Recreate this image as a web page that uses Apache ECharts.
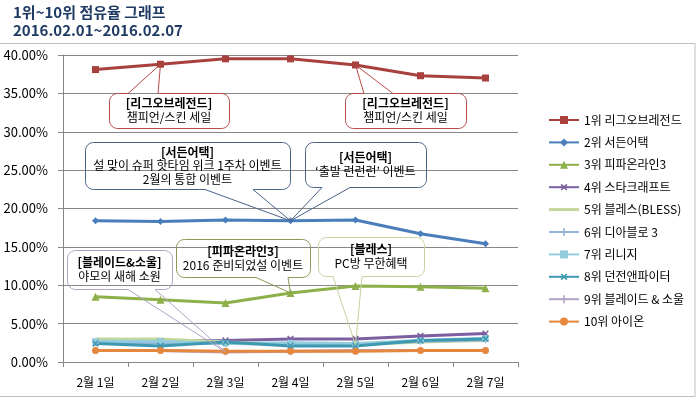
<!DOCTYPE html>
<html>
<head>
<meta charset="utf-8">
<script src="https://cdn.jsdelivr.net/npm/echarts@6/dist/echarts.min.js"></script>
<style>
  html, body { margin: 0; padding: 0; background: #fff; }
  #main { width: 696px; height: 399px; }
</style>
</head>
<body>
<div id="main"></div>
<script>
var FONT = '"Noto Sans CJK KR", "Noto Sans", sans-serif';

// data (% share)
var days = ['2월 1일', '2월 2일', '2월 3일', '2월 4일', '2월 5일', '2월 6일', '2월 7일'];
var names = ['1위 리그오브레전드', '2위 서든어택', '3위 피파온라인3', '4위 스타크래프트', '5위 블레스(BLESS)',
  '6위 디아블로 3', '7위 리니지', '8위 던전앤파이터', '9위 블레이드 & 소울', '10위 아이온'];
var lol = [38.1, 38.8, 39.5, 39.5, 38.7, 37.3, 37.0];
var sudden = [18.4, 18.3, 18.5, 18.4, 18.5, 16.7, 15.4];
var fifa = [8.5, 8.1, 7.7, 9.0, 9.9, 9.8, 9.6];
var starcraft = [2.7, 2.7, 2.8, 3.0, 3.0, 3.4, 3.7];
var bless = [3.0, 3.0, 2.6, 2.3, 2.2, 2.6, 2.8];
var diablo = [2.5, 2.5, 2.4, 2.3, 2.3, 2.7, 2.9];
var lineage = [2.7, 2.7, 2.4, 2.5, 2.4, 2.8, 3.1];
var dnf = [2.4, 2.1, 2.6, 2.1, 2.1, 2.8, 3.0];
var bns = [1.5, 1.5, 1.3, 1.4, 1.5, 1.5, 1.5];
var aion = [1.5, 1.5, 1.4, 1.4, 1.4, 1.5, 1.5];
var yMax = 40, yStep = 5;

var allData = [lol, sudden, fifa, starcraft, bless, diablo, lineage, dnf, bns, aion];

// styles
var colors = ['#A8413E', '#4A7EBB', '#8DB04A', '#7B5FA0', '#C4D79B', '#95B3D7', '#93CDDD', '#3E98B0', '#B3A2C7', '#E5873D'];
var plus = 'path://M4,0H6V4H10V6H6V10H4V6H0V4H4Z';
var symbols = ['rect', 'diamond', 'triangle', plus, 'none', plus, 'rect', plus, plus, 'circle'];
var symRot = [0, 0, 0, 45, 0, 0, 0, 45, 0, 0];
var symSize = [7, 7, 8, 8, 0, 7, 6, 8, 7, 7];

// callouts: which point they point at + box layout
var notes = [
  { lines: ['[리그오브레전드]', '챔피언/스킨 세일'], s: 0, d: 1, box: [109, 93, 120, 35], base: [128, 158], side: 'top', color: '#B84A47' },
  { lines: ['[리그오브레전드]', '챔피언/스킨 세일'], s: 0, d: 4, box: [345, 93, 121, 35], base: [364, 393], side: 'top', color: '#B84A47' },
  { lines: ['[서든어택]', '설 맞이 슈퍼 핫타임 위크 1주차 이벤트', '2월의 통합 이벤트'], s: 1, d: 3, box: [85, 142, 205, 47], base: [205, 253], side: 'bottom', color: '#4A6488' },
  { lines: ['[서든어택]', '‘출발 런런런’ 이벤트'], s: 1, d: 3, box: [305, 142, 121, 45], base: [322, 350], side: 'bottom', color: '#4A6488' },
  { lines: ['[블레이드&소울]', '야모의 새해 소원'], s: 8, d: 2, box: [67, 250, 105, 39], base: [128, 155], side: 'bottom', color: '#AFA4C6' },
  { lines: ['[피파온라인3]', '2016 준비되었설 이벤트'], s: 2, d: 3, box: [176, 239, 134, 38], base: [256, 288], side: 'bottom', color: '#8A9A56' },
  { lines: ['[블레스]', 'PC방 무한혜택'], s: 4, d: 4, box: [318, 237, 106, 39], base: [333, 362], side: 'bottom', color: '#C4D3A0' }
];

var chart = echarts.init(document.getElementById('main'));

var series = allData.map(function (arr, i) {
  return {
    name: names[i],
    type: 'line',
    data: arr,
    color: colors[i],
    symbol: symbols[i],
    symbolSize: symSize[i],
    symbolRotate: symRot[i],
    showSymbol: symbols[i] !== 'none',
    lineStyle: { width: 3, color: colors[i] },
    itemStyle: { color: colors[i] },
    emphasis: { disabled: true }
  };
});

// 5위 has no marker, so its legend entry is a plain line
var legendData = names.map(function (n, i) {
  return symbols[i] === 'none' ? { name: n, icon: 'path://M0,0H30V3H0Z' } : { name: n };
});

var option = {
  animation: false,
  backgroundColor: '#fff',
  textStyle: { fontFamily: FONT },
  title: {
    text: '1위~10위 점유율 그래프\n2016.02.01~2016.02.07',
    left: 13, top: 3, padding: 0,
    textStyle: { fontSize: 15, fontWeight: 'bold', color: '#1F3B64', lineHeight: 18, fontFamily: FONT }
  },
  grid: { left: 63, right: 178, top: 55, bottom: 37 },
  legend: {
    orient: 'vertical',
    left: 548, top: 114, padding: 0,
    itemWidth: 30, itemHeight: 10, itemGap: 10.4,
    textStyle: { fontSize: 12, color: '#000', fontFamily: FONT },
    data: legendData
  },
  xAxis: {
    type: 'category',
    data: days,
    boundaryGap: true,
    axisLine: { lineStyle: { color: '#868686', width: 1 } },
    axisTick: { show: true, length: 5, lineStyle: { color: '#868686' } },
    axisLabel: { color: '#000', fontSize: 12, margin: 14, fontFamily: FONT }
  },
  yAxis: {
    type: 'value',
    min: 0, max: yMax, interval: yStep,
    axisLine: { show: true, lineStyle: { color: '#868686' } },
    axisTick: { show: true, length: 5, lineStyle: { color: '#868686' } },
    splitLine: { lineStyle: { color: '#868686' } },
    axisLabel: {
      color: '#000', fontSize: 13, margin: 15, fontFamily: FONT,
      formatter: function (v) { return v.toFixed(2) + '%'; }
    }
  },
  series: series
};

chart.setOption(option);

// callout outline (rounded rect with wedge)
function calloutPoints(x, y, w, h, r, side, b0, b1, px, py) {
  var pts = [];
  function arc(cx, cy, a0, a1) {
    for (var k = 0; k <= 6; k++) {
      var a = (a0 + (a1 - a0) * k / 6) * Math.PI / 180;
      pts.push([cx + r * Math.cos(a), cy + r * Math.sin(a)]);
    }
  }
  pts.push([x + r, y]);
  if (side === 'top') { pts.push([b0, y], [px, py], [b1, y]); }
  arc(x + w - r, y + r, -90, 0);
  arc(x + w - r, y + h - r, 0, 90);
  if (side === 'bottom') { pts.push([b1, y + h], [px, py], [b0, y + h]); }
  arc(x + r, y + h - r, 90, 180);
  arc(x + r, y + r, 180, 270);
  return pts;
}

var graphics = [{
  type: 'rect', silent: true,
  shape: { x: -1, y: 43.5, width: 696, height: 353 },
  style: { fill: 'none', stroke: '#BFBFBF', lineWidth: 1 }
}];

notes.forEach(function (n) {
  var p = chart.convertToPixel({ seriesIndex: n.s }, [n.d, allData[n.s][n.d]]);
  var b = n.box;
  graphics.push({
    type: 'polygon', silent: true, z: 100,
    shape: { points: calloutPoints(b[0] + 0.5, b[1] + 0.5, b[2], b[3], 8, n.side, n.base[0], n.base[1], p[0], p[1]) },
    style: { fill: 'none', stroke: n.color, lineWidth: 1 }
  });
  var lh = n.lines.length === 3 ? 13.5 : 14;
  var cy = b[1] + b[3] / 2 - (n.lines.length - 1) * lh / 2;
  n.lines.forEach(function (t, j) {
    graphics.push({
      type: 'text', silent: true, z: 101,
      x: b[0] + b[2] / 2, y: cy + j * lh,
      style: {
        text: t, fill: '#000', fontSize: 12, fontFamily: FONT,
        fontWeight: j === 0 ? 'bold' : 'normal',
        align: 'center', verticalAlign: 'middle'
      }
    });
  });
});

chart.setOption({ graphic: graphics });
</script>
</body>
</html>
